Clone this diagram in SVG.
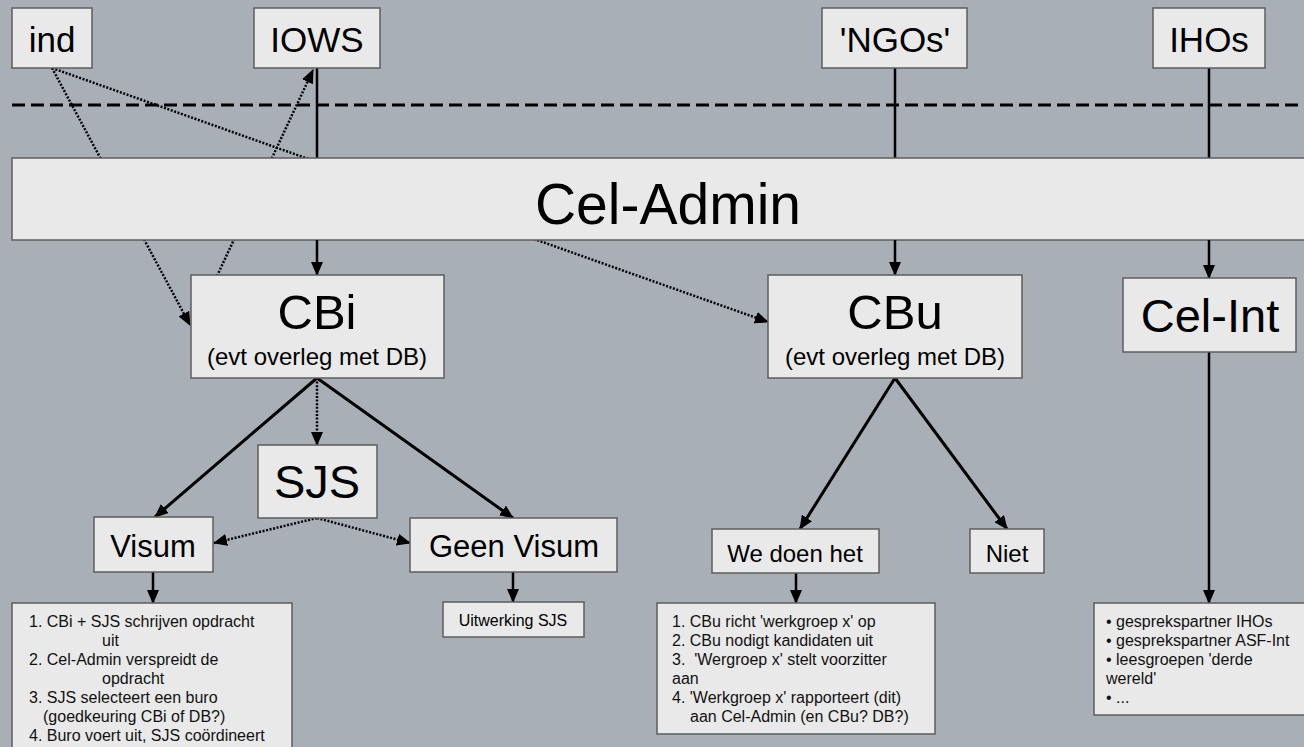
<svg xmlns="http://www.w3.org/2000/svg" width="1304" height="747" viewBox="0 0 1304 747">
<style>
.bg{fill:#a9afb7}
.box{fill:#e9e9e9;stroke:#5e5e5e;stroke-width:1.5}
.t{font-family:"Liberation Sans",Arial,sans-serif;fill:#000;text-anchor:middle}
.s{font-family:"Liberation Sans",Arial,sans-serif;fill:#111;font-size:16px}
.solid{stroke:#000;stroke-width:2.5;fill:none}
.thick{stroke:#000;stroke-width:3;fill:none}
.dot{stroke:#000;stroke-width:2.5;stroke-dasharray:2 1.6;fill:none}
.dash{stroke:#000;stroke-width:3;stroke-dasharray:13 6;fill:none}
</style>
<defs>
<marker id="ah" markerUnits="userSpaceOnUse" markerWidth="14" markerHeight="12" refX="13" refY="6" orient="auto">
<path d="M0,0 L14,6 L0,12 z" fill="#000"/>
</marker>
</defs>
<rect class="bg" x="0" y="0" width="1304" height="747"/>

<g id="connectors">
<line class="dot" x1="52" y1="68" x2="190" y2="325" marker-end="url(#ah)"/>
<line class="dot" x1="52" y1="68" x2="768" y2="322" marker-end="url(#ah)"/>
<line class="dot" x1="217" y1="276" x2="313" y2="70" marker-end="url(#ah)"/>
<line class="solid" x1="317" y1="68" x2="317" y2="158"/>
<line class="solid" x1="895" y1="68" x2="895" y2="158"/>
<line class="solid" x1="1209" y1="68" x2="1209" y2="158"/>
<line class="dash" x1="12" y1="105" x2="1304" y2="105"/>
</g>

<g id="cel-admin">
<rect class="box" x="12" y="158" width="1300" height="82"/>
<text class="t" x="668" y="224" font-size="57">Cel-Admin</text>
</g>

<g id="connectors-lower">
<line class="solid" x1="317" y1="240" x2="317" y2="275" marker-end="url(#ah)"/>
<line class="solid" x1="895" y1="240" x2="895" y2="275" marker-end="url(#ah)"/>
<line class="solid" x1="1209" y1="240" x2="1209" y2="278" marker-end="url(#ah)"/>
<line class="thick" x1="317" y1="378" x2="155" y2="517" marker-end="url(#ah)"/>
<line class="thick" x1="317" y1="378" x2="513" y2="518" marker-end="url(#ah)"/>
<line class="dot" x1="317" y1="378" x2="317" y2="445" marker-end="url(#ah)"/>
<line class="dot" x1="317" y1="518" x2="214" y2="543" marker-end="url(#ah)"/>
<line class="dot" x1="317" y1="518" x2="410" y2="543" marker-end="url(#ah)"/>
<line class="solid" x1="153" y1="572" x2="153" y2="603" marker-end="url(#ah)"/>
<line class="solid" x1="513" y1="572" x2="513" y2="602" marker-end="url(#ah)"/>
<line class="thick" x1="895" y1="378" x2="800" y2="529" marker-end="url(#ah)"/>
<line class="thick" x1="895" y1="378" x2="1007" y2="529" marker-end="url(#ah)"/>
<line class="solid" x1="796" y1="573" x2="796" y2="603" marker-end="url(#ah)"/>
<line class="solid" x1="1209" y1="352" x2="1209" y2="603" marker-end="url(#ah)"/>
</g>

<g id="ind">
<rect class="box" x="12" y="8" width="80" height="60"/>
<text class="t" x="52" y="52" font-size="35">ind</text>
</g>
<g id="iows">
<rect class="box" x="254" y="8" width="126" height="60"/>
<text class="t" x="317" y="52" font-size="35">IOWS</text>
</g>
<g id="ngos">
<rect class="box" x="822" y="8" width="145" height="60"/>
<text class="t" x="895" y="52" font-size="35">'NGOs'</text>
</g>
<g id="ihos">
<rect class="box" x="1153" y="8" width="112" height="60"/>
<text class="t" x="1209" y="52" font-size="35">IHOs</text>
</g>

<g id="cbi">
<rect class="box" x="191" y="275" width="253" height="103"/>
<text class="t" x="317" y="329" font-size="49">CBi</text>
<text class="t" x="317" y="365" font-size="24">(evt overleg met DB)</text>
</g>
<g id="cbu">
<rect class="box" x="768" y="275" width="254" height="103"/>
<text class="t" x="895" y="329" font-size="49">CBu</text>
<text class="t" x="895" y="365" font-size="24">(evt overleg met DB)</text>
</g>
<g id="cel-int">
<rect class="box" x="1123" y="278" width="173" height="74"/>
<text class="t" x="1210" y="332" font-size="47">Cel-Int</text>
</g>

<g id="sjs">
<rect class="box" x="258" y="445" width="119" height="73"/>
<text class="t" x="317" y="498" font-size="47">SJS</text>
</g>
<g id="visum">
<rect class="box" x="94" y="517" width="119" height="55"/>
<text class="t" x="153" y="557" font-size="31">Visum</text>
</g>
<g id="geen-visum">
<rect class="box" x="410" y="518" width="207" height="54"/>
<text class="t" x="514" y="557" font-size="31">Geen Visum</text>
</g>
<g id="we-doen-het">
<rect class="box" x="712" y="529" width="167" height="44"/>
<text class="t" x="795" y="562" font-size="24">We doen het</text>
</g>
<g id="niet">
<rect class="box" x="970" y="529" width="74" height="44"/>
<text class="t" x="1007" y="562" font-size="24">Niet</text>
</g>

<g id="uitwerking">
<rect class="box" x="443" y="602" width="141" height="35"/>
<text class="t" x="513" y="626" font-size="16">Uitwerking SJS</text>
</g>

<g id="visum-steps">
<rect class="box" x="12" y="603" width="280" height="160"/>
<text class="s" x="29" y="627">1. CBi + SJS schrijven opdracht</text>
<text class="s" x="102" y="646">uit</text>
<text class="s" x="29" y="665">2. Cel-Admin verspreidt de</text>
<text class="s" x="102" y="684">opdracht</text>
<text class="s" x="29" y="703">3. SJS selecteert een buro</text>
<text class="s" x="43" y="722">(goedkeuring CBi of DB?)</text>
<text class="s" x="29" y="741">4. Buro voert uit, SJS coördineert</text>
</g>

<g id="werkgroep-steps">
<rect class="box" x="657" y="603" width="278" height="131"/>
<text class="s" x="672" y="627">1. CBu richt 'werkgroep x' op</text>
<text class="s" x="672" y="646">2. CBu nodigt kandidaten uit</text>
<text class="s" x="672" y="665">3.&#160; 'Wergroep x' stelt voorzitter</text>
<text class="s" x="672" y="684">aan</text>
<text class="s" x="672" y="703">4. 'Werkgroep x' rapporteert (dit)</text>
<text class="s" x="690" y="722">aan Cel-Admin (en CBu? DB?)</text>
</g>

<g id="int-tasks">
<rect class="box" x="1094" y="603" width="220" height="112"/>
<text class="s" x="1106" y="627">• gesprekspartner IHOs</text>
<text class="s" x="1106" y="646">• gesprekspartner ASF-Int</text>
<text class="s" x="1106" y="665">• leesgroepen 'derde</text>
<text class="s" x="1106" y="684">wereld'</text>
<text class="s" x="1106" y="703">• ...</text>
</g>
</svg>
